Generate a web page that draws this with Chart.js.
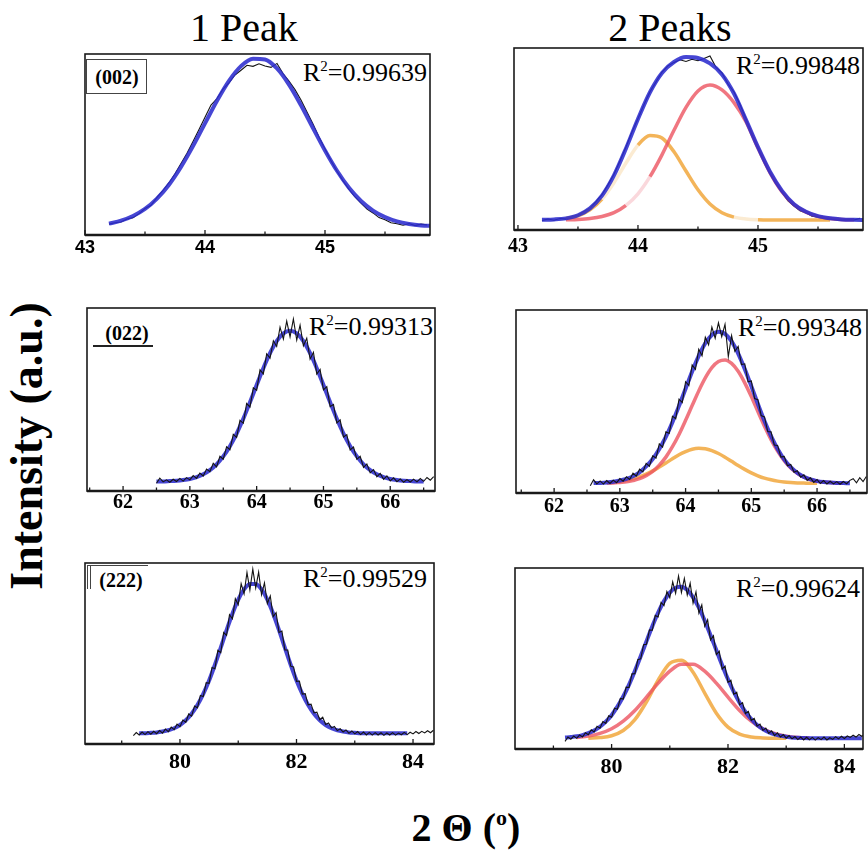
<!DOCTYPE html>
<html>
<head>
<meta charset="utf-8">
<script src="https://cdn.jsdelivr.net/npm/chart.js@4.4.1/dist/chart.umd.min.js"></script>
<style>
  html, body { margin: 0; padding: 0; background: #fff; overflow: hidden; }
  #page { position: relative; width: 868px; height: 851px; font-family: "Liberation Serif", "Times New Roman", serif; color: #000; }
  #page canvas { position: absolute; }
  .title { position: absolute; font-size: 40px; line-height: 40px; white-space: nowrap; transform: translateX(-50%); }
  .axis-title { position: absolute; font-weight: bold; white-space: nowrap; }
  .rsq { position: absolute; font-size: 26px; line-height: 26px; white-space: nowrap; }
  .rsq sup { font-size: 15px; line-height: 0; vertical-align: 10px; }
  .plane { position: absolute; font-weight: bold; font-size: 20px; line-height: 20px; white-space: nowrap; transform: translateX(-50%); }
  .rule { position: absolute; background: #444; }
</style>
</head>
<body>
<div id="page">
  <div class="title" style="left:244px; top:8px;">1 Peak</div>
  <div class="title" style="left:670px; top:8px;">2 Peaks</div>

  <div class="axis-title" style="left:27px; top:446px; font-size:46px; line-height:46px; transform:translate(-50%,-50%) rotate(-90deg);">Intensity (a.u.)</div>
  <div class="axis-title" style="left:466px; top:808px; font-size:40px; line-height:40px; transform:translateX(-50%);">2 Θ (<sup style="font-size:22px; line-height:0; vertical-align:16px;">o</sup>)</div>

  <!-- plane labels -->
  <div class="rule" style="left:86px; top:59px; width:61px; height:1px;"></div>
  <div class="rule" style="left:86px; top:93px; width:61px; height:1px;"></div>
  <div class="rule" style="left:86px; top:59px; width:1px; height:35px;"></div>
  <div class="rule" style="left:146px; top:59px; width:1px; height:35px;"></div>
  <div class="plane" style="left:117px; top:67px;">(002)</div>

  <div class="plane" style="left:127px; top:323px;">(022)</div>
  <div class="rule" style="left:93px; top:345px; width:60px; height:1.5px; background:#222;"></div>

  <div class="rule" style="left:87px; top:565px; width:61px; height:1.2px;"></div>
  <div class="rule" style="left:87px; top:565px; width:1.2px; height:24px;"></div>
  <div class="rule" style="left:89.5px; top:565px; width:1px; height:24px;"></div>
  <div class="plane" style="left:121px; top:570px;">(222)</div>

  <!-- goodness of fit -->
  <div class="rsq" style="right:441px; top:60px;">R<sup>2</sup>=0.99639</div>
  <div class="rsq" style="right:8px; top:53px;">R<sup>2</sup>=0.99848</div>
  <div class="rsq" style="right:435px; top:314px;">R<sup>2</sup>=0.99313</div>
  <div class="rsq" style="right:6px; top:315px;">R<sup>2</sup>=0.99348</div>
  <div class="rsq" style="right:441px; top:566px;">R<sup>2</sup>=0.99529</div>
  <div class="rsq" style="right:8px; top:576px;">R<sup>2</sup>=0.99624</div>
</div>

<script>
// ---- (002) reflection, 2θ ≈ 43–46° ----
const p1Ticks = [43, 44, 45];
const p1Minor = [43.5, 44.5, 45.5];
// measured, 43.20° step 0.05°
const p1Black = [6.0, 6.8, 7.2, 8.8, 9.6, 11.8, 14.6, 16.4, 20.8, 24.6, 28.9, 33.8, 39.5, 45.2, 51.6, 58.3,
  65.0, 71.8, 75.4, 80.6, 84.1, 88.4, 91.0, 93.8, 93.2, 94.6, 93.4, 92.6, 94.8, 89.2, 85.0, 80.3, 74.6, 67.9, 61.3, 54.2,
  47.5, 41.0, 35.2, 30.0, 25.2, 21.0, 17.6, 14.3, 12.2, 9.6, 8.4, 6.8, 6.2, 5.4, 6.3, 5.2, 6.0, 5.6];
// single-peak fit, 43.2° step 0.1°
const p1Fit = [6.3, 7.9, 10.5, 14.4, 20.1, 27.8, 37.6, 49.1, 61.7, 74.2, 85.2, 93.3, 97.4, 97.0, 92.0, 83.1, 71.7, 59.1,
  46.7, 35.5, 26.1, 18.8, 13.5, 9.9, 7.5, 6.1, 5.3, 5.0];

// two-peak fit of the same data
const p2Black = [5.2, 6.0, 5.4, 6.3, 6.0, 7.4, 8.0, 10.2, 12.0, 15.6, 19.4, 24.8, 30.6, 37.9, 45.6, 53.8,
  61.2, 68.9, 76.0, 81.3, 86.8, 90.2, 92.1, 93.5, 92.6, 93.8, 93.0, 94.2, 95.6, 89.4, 86.3, 80.2, 75.8, 69.0, 61.2, 52.4,
  45.0, 37.2, 31.0, 25.3, 20.6, 16.0, 13.2, 10.6, 9.4, 7.6, 7.0, 6.2, 5.9, 5.6, 5.4, 5.8, 5.5, 6.4];
const p2Fit = [5.6, 5.8, 6.4, 8.1, 11.9, 18.9, 30.0, 44.8, 61.0, 75.7, 86.3, 92.3, 95.0, 94.5, 91.5, 85.5, 75.0, 60.5,
  45.5, 32.0, 21.5, 14.2, 10.0, 7.6, 6.4, 5.8, 5.6, 5.5];
// components, 43.4° step 0.1°
const p2PeakHigh = [5.6, 5.8, 6.3, 7.4, 9.5, 13.5, 19.9, 29.3, 41.3, 54.8, 67.4, 76.4, 79.7, 77.0, 70.0, 59.5,
  45.0, 31.5, 21.0, 13.9, 9.8, 7.5, 6.3, 5.8, 5.6];
const p2PeakLow = [6.3, 7.8, 11.1, 17.0, 26.0, 36.8, 46.6, 51.9, 50.5, 43.0, 32.4, 22.1, 14.3, 9.5, 7.1, 6.0,
  5.6, 5.5, 5.5, 5.5, 5.5, 5.5, 5.5];

// ---- (022) reflection, 2θ ≈ 62–66.5° ----
const p3Ticks = [62, 63, 64, 65, 66];
const p3Minor = [61.5, 62.5, 63.5, 64.5, 65.5, 66.5];
// 62.50° step 0.05°
const p3Black = [4.2, 7.0, 5.0, 6.1, 4.8, 6.4, 5.2, 6.9, 5.4, 7.3,
  6.1, 8.4, 6.9, 9.8, 8.2, 12.0, 10.6, 15.1, 13.2, 19.0, 17.4, 24.2, 22.6, 31.0, 29.3, 38.6, 37.0, 47.8, 45.9, 56.4,
  55.0, 66.2, 64.0, 75.0, 72.6, 82.1, 79.0, 89.5, 83.0, 92.8, 84.2, 94.0, 82.5, 90.6, 79.3, 83.5, 72.0, 75.8, 63.9, 66.4,
  55.2, 57.0, 46.1, 47.3, 37.2, 38.9, 29.5, 30.8, 22.4, 24.0, 17.3, 19.0, 12.9, 14.8, 9.9, 11.7, 7.8, 9.6, 6.4, 8.3,
  5.5, 7.2, 5.1, 6.6, 4.8, 6.2, 4.9, 6.5, 5.0, 6.8, 5.3, 7.4, 5.9, 7.8];
// 62.5° step 0.1°
const p3Fit = [5.2, 5.2, 5.4, 5.6, 6.0, 6.6, 7.6, 9.1, 11.4, 14.6, 18.9, 24.5, 31.4, 39.5, 48.5,
  57.9, 67.1, 75.3, 81.9, 86.1, 87.6, 86.1, 81.9, 75.3, 67.1, 57.9, 48.5, 39.5, 31.4, 24.5,
  18.9, 14.6, 11.4, 9.1, 7.6, 6.6, 6.0, 5.6, 5.4, 5.2, 5.2];

// 62.55° step 0.05°
const p4Black = [4.0, 7.2, 5.0, 6.6, 4.9, 6.8, 5.2, 7.0, 5.6,
  7.9, 6.5, 8.9, 7.4, 10.8, 9.2, 13.0, 11.5, 16.2, 14.6, 20.3, 19.1, 26.8, 25.0, 33.4, 32.5, 42.0, 40.6, 51.3, 49.4,
  60.8, 58.7, 70.0, 67.6, 78.6, 75.0, 85.2, 81.0, 90.6, 84.6, 93.0, 85.4, 92.2, 74.5, 86.0, 77.4, 80.1, 70.2, 70.6, 60.8,
  61.2, 51.6, 51.0, 42.3, 41.6, 33.6, 33.4, 26.2, 26.0, 19.6, 20.0, 14.9, 15.6, 11.3, 12.2, 8.6, 9.9, 6.9, 8.3, 5.8,
  7.4, 5.2, 6.8, 4.9, 6.4, 5.0, 6.2, 4.8, 6.3, 5.1, 6.9, 7.8, 5.6, 8.4, 6.2, 9.0];
// 62.6° step 0.1°
const p4Fit = [5.4, 5.5, 5.7, 6.1, 6.8, 7.7, 9.2, 11.3, 14.5, 18.6, 24.1, 30.7, 38.7, 47.6,
  57.0, 66.4, 74.9, 81.8, 86.4, 88.1, 87.0, 82.8, 76.2, 67.8, 58.4, 48.6, 39.3, 31.1, 24.1, 18.4,
  14.1, 11.0, 8.8, 7.4, 6.5, 6.0, 5.7, 5.5, 5.4, 5.3];
// 62.8° step 0.1°
const p4PeakHigh = [5.4, 5.5, 5.8, 6.1, 6.8, 7.8, 9.5, 11.8, 15.2, 19.6, 25.3, 32.0, 39.7, 47.8, 55.8, 62.9,
  68.5, 71.8, 72.7, 70.8, 66.5, 60.2, 52.7, 44.5, 36.5, 29.2, 22.9, 17.7, 13.7, 10.8, 8.7, 7.4, 6.5, 6.0, 5.7, 5.5, 5.4];
const p4PeakLow = [5.6, 5.9, 6.3, 6.9, 7.7, 8.8, 10.3, 12.1, 14.2, 16.4, 18.7, 20.9, 22.6, 23.9, 24.4, 24.2,
  23.2, 21.6, 19.6, 17.3, 15.0, 12.9, 11.0, 9.4, 8.1, 7.2, 6.5, 6.0, 5.7, 5.5, 5.4, 5.3, 5.3];

// ---- (222) reflection, 2θ ≈ 79–84° ----
const p5Ticks = [80, 82, 84];
const p5Minor = [79, 81, 83];
// 79.20° step 0.05°
const p5Black = [4.6, 6.3, 5.0, 6.6, 5.2, 6.8, 5.4, 7.0, 5.7, 7.4, 6.0, 8.2, 6.8, 9.3, 7.9, 11.0,
  9.6, 13.2, 12.0, 16.6, 15.4, 21.0, 20.0, 26.8, 26.2, 33.9, 33.5, 42.3, 41.6, 51.8, 50.4, 61.6, 60.0, 71.4, 69.2, 80.3,
  77.0, 88.6, 83.0, 94.8, 85.0, 96.6, 86.2, 95.0, 82.4, 89.0, 77.6, 81.8, 70.4, 72.6, 61.6, 62.4, 52.0, 51.9, 43.0, 42.6,
  34.6, 34.8, 27.6, 27.8, 21.6, 22.0, 17.2, 17.6, 13.4, 14.8, 10.8, 11.6, 8.9, 9.7, 7.4, 8.4, 6.6, 7.8, 5.9, 7.2,
  5.6, 6.9, 5.2, 6.6, 5.0, 6.4, 4.9, 6.3, 5.0, 6.2, 4.8, 6.1, 5.0, 6.3, 4.9, 6.0, 5.1, 6.4, 5.2, 6.5,
  5.6, 6.9, 5.8, 7.0, 6.1, 7.3, 6.2, 7.6];
// 79.3° step 0.1°
const p5Fit = [6.0, 6.0, 6.2, 6.4, 6.9, 7.6, 8.7, 10.5, 13.1, 16.7, 21.5, 27.7, 35.1, 43.8, 53.2, 62.9, 72.0,
  79.8, 85.4, 88.4, 88.4, 85.4, 79.8, 72.0, 62.9, 53.2, 43.8, 35.1, 27.7, 21.5, 16.7, 13.1, 10.5, 8.7, 7.6, 6.9,
  6.4, 6.2, 6.0, 6.0, 5.9, 5.9, 5.9, 5.9, 5.9, 5.9, 5.9];

// 79.20° step 0.05°
const p6Black = [4.2, 6.6, 5.4, 7.2, 5.9, 7.8, 6.6, 9.0, 7.9, 10.6, 9.4, 12.6, 11.5, 15.2, 14.1, 18.3,
  17.5, 22.6, 22.0, 27.9, 27.6, 34.2, 34.0, 41.5, 41.6, 49.3, 49.8, 57.6, 57.9, 65.8, 65.6, 73.8, 73.0, 81.0, 79.2, 87.0,
  83.6, 92.4, 86.0, 95.6, 86.4, 94.2, 85.0, 91.6, 80.6, 86.8, 75.0, 79.6, 67.8, 71.4, 60.2, 62.6, 52.2, 54.0, 44.2, 45.8,
  36.8, 38.0, 30.2, 31.4, 24.4, 25.6, 19.6, 20.8, 15.8, 16.9, 12.6, 13.8, 10.3, 11.6, 8.6, 10.0, 7.4, 8.9, 6.6, 8.0,
  6.0, 7.4, 5.6, 6.9, 5.2, 6.6, 5.0, 6.5, 5.1, 6.4, 4.9, 6.3, 5.2, 6.6, 5.0, 6.2, 5.3, 6.8, 5.6, 7.0,
  5.8, 7.2, 6.4, 7.6, 6.6, 8.0, 7.0, 7.9];
// 79.2° step 0.1°
const p6Fit = [6.3, 6.6, 7.0, 7.7, 8.8, 10.2, 12.3, 15.1, 18.7, 23.4, 29.0, 35.6, 43.1, 51.2, 59.6, 67.8, 75.4, 81.7,
  86.4, 89.1, 89.6, 87.8, 83.8, 78.1, 70.9, 62.9, 54.6, 46.3, 38.5, 31.5, 25.5, 20.5, 16.5, 13.3, 11.0, 9.3, 8.1, 7.3,
  6.8, 6.4, 6.2, 6.1, 6.0, 5.9, 5.9, 5.9, 5.9, 5.9, 5.9, 5.9, 5.9, 5.9];
// 79.4° step 0.2°
const p6PeakHigh = [6.4, 7.1, 8.6, 11.2, 15.4, 21.3, 28.7, 36.4, 43.0, 46.8, 46.8, 43.0, 36.4, 28.7, 21.3, 15.4,
  11.2, 8.6, 7.1, 6.4, 6.1];
// 79.6° step 0.2°
const p6PeakLow = [6.0, 6.3, 7.3, 10.2, 16.2, 26.1, 38.1, 47.3, 49.1, 42.4, 30.9, 19.8, 12.1, 8.2, 6.6, 6.1, 5.9, 5.9];

// evenly sampled 2θ -> {x, y} points
function series(start, step, ys) {
  return ys.map((y, i) => ({ x: +(start + i * step).toFixed(3), y }));
}

const lineStyles = {
  data: { borderColor: '#141414', borderWidth: 1.1 },
  fit: { borderColor: 'rgba(44,44,206,0.88)', borderWidth: 4, cubicInterpolationMode: 'monotone' },
  high: { borderColor: 'rgba(236,84,96,0.8)', borderWidth: 3.5, cubicInterpolationMode: 'monotone' },
  low: { borderColor: 'rgba(241,170,66,0.88)', borderWidth: 3.5, cubicInterpolationMode: 'monotone' }
};
// washed-out stretches on the component curves
const fadeColors = { high: 'rgba(246,190,196,0.6)', low: 'rgba(248,222,180,0.6)' };

const serifBold = { family: '"Liberation Serif", "Times New Roman", serif', weight: 'bold' };

const panels = [
  { box: [85, 54, 430, 235], min: 43, max: 45.875, ticks: p1Ticks, minor: p1Minor,
    font: { family: '"Liberation Sans", Arial, sans-serif', weight: 'bold', size: 18 }, pad: 2, dataOnTop: false,
    lines: [['data', series(43.2, 0.05, p1Black)], ['fit', series(43.2, 0.1, p1Fit)]] },
  { box: [514, 48, 863, 230], min: 42.967, max: 45.875, ticks: p1Ticks, minor: [43.5, 44.5, 45.5],
    font: { ...serifBold, size: 20 }, pad: 4.5, dataOnTop: false,
    fade: { high: [[43.85, 44.05]], low: [[43.7, 43.95], [44.8, 44.95]] },
    lines: [['data', series(43.2, 0.05, p2Black)], ['fit', series(43.2, 0.1, p2Fit)],
            ['high', series(43.4, 0.1, p2PeakHigh)], ['low', series(43.4, 0.1, p2PeakLow)]] },
  { box: [87, 308, 435, 491], min: 61.46, max: 66.67, ticks: p3Ticks, minor: p3Minor,
    font: { ...serifBold, size: 20 }, pad: 0, dataOnTop: true,
    lines: [['data', series(62.5, 0.05, p3Black)], ['fit', series(62.5, 0.1, p3Fit)]] },
  { box: [516, 310, 867, 493], min: 61.42, max: 66.76, ticks: p3Ticks, minor: p3Minor,
    font: { ...serifBold, size: 20 }, pad: 2, dataOnTop: true,
    lines: [['data', series(62.55, 0.05, p4Black)], ['fit', series(62.6, 0.1, p4Fit)],
            ['high', series(62.8, 0.1, p4PeakHigh)], ['low', series(62.8, 0.1, p4PeakLow)]] },
  { box: [85, 563, 434, 744], min: 78.37, max: 84.36, ticks: p5Ticks, minor: p5Minor,
    font: { ...serifBold, size: 22 }, pad: 4.8, dataOnTop: true,
    lines: [['data', series(79.2, 0.05, p5Black)], ['fit', series(79.3, 0.1, p5Fit)]] },
  { box: [515, 568, 863, 749], min: 78.34, max: 84.32, ticks: p5Ticks, minor: p5Minor,
    font: { ...serifBold, size: 22 }, pad: 5, dataOnTop: true,
    lines: [['data', series(79.2, 0.05, p6Black)], ['fit', series(79.2, 0.1, p6Fit)],
            ['high', series(79.4, 0.2, p6PeakHigh)], ['low', series(79.6, 0.2, p6PeakLow)]] }
];

// box around the plot area plus short inward ticks on the 2θ axis
const framePlugin = {
  id: 'frame',
  afterDatasetsDraw(chart, args, opts) {
    const { ctx, chartArea: a, scales: { x } } = chart;
    ctx.save();
    ctx.strokeStyle = '#1a1a1a';
    ctx.lineWidth = 1.6;
    ctx.strokeRect(a.left, a.top, a.right - a.left, a.bottom - a.top);
    ctx.lineWidth = 2.4;
    ctx.beginPath();
    ctx.moveTo(a.left, a.bottom);
    ctx.lineTo(a.right, a.bottom);
    ctx.stroke();
    ctx.lineWidth = 1.3;
    x.ticks.forEach(t => {
      const px = x.getPixelForValue(t.value);
      const len = opts.major.includes(t.value) ? 5 : 3.5;
      ctx.beginPath();
      ctx.moveTo(px, a.bottom);
      ctx.lineTo(px, a.bottom - len);
      ctx.stroke();
    });
    ctx.restore();
  }
};

const order = { fit: 1, high: 2, low: 3 };
const page = document.getElementById('page');

panels.forEach(p => {
  const [L, T, R, B] = p.box;
  const side = 16, top = 4, axisH = 40;
  const canvas = document.createElement('canvas');
  canvas.width = R - L + side * 2;
  canvas.height = B - T + top + axisH;
  canvas.style.left = (L - side) + 'px';
  canvas.style.top = (T - top) + 'px';
  page.appendChild(canvas);

  const datasets = p.lines.map(([kind, pts]) => {
    const ds = {
      data: pts,
      ...lineStyles[kind],
      pointRadius: 0,
      fill: false,
      order: kind === 'data' ? (p.dataOnTop ? 0 : 4) : order[kind]
    };
    const ranges = p.fade && p.fade[kind];
    if (ranges) {
      ds.segment = {
        borderColor: c => {
          const mid = (c.p0.parsed.x + c.p1.parsed.x) / 2;
          return ranges.some(([a, b]) => mid >= a && mid <= b) ? fadeColors[kind] : undefined;
        }
      };
    }
    return ds;
  });

  new Chart(canvas, {
    type: 'line',
    data: { datasets },
    options: {
      responsive: false,
      devicePixelRatio: 1,
      animation: false,
      layout: { padding: { left: side, right: side, top: top, bottom: 0 } },
      plugins: {
        legend: { display: false },
        tooltip: { enabled: false },
        frame: { major: p.ticks }
      },
      scales: {
        x: {
          type: 'linear',
          min: p.min,
          max: p.max,
          grid: { display: false, drawTicks: false },
          border: { display: false },
          afterBuildTicks: s => { s.ticks = [...p.ticks, ...p.minor].sort((a, b) => a - b).map(v => ({ value: v })); },
          afterFit: s => { s.height = axisH; },
          ticks: {
            autoSkip: false,
            maxRotation: 0,
            minRotation: 0,
            padding: p.pad,
            color: '#000',
            font: p.font,
            callback: v => (p.ticks.includes(v) ? String(v) : '')
          }
        },
        y: { display: false, min: 0, max: 100 }
      }
    },
    plugins: [framePlugin]
  });
});
</script>
</body>
</html>
